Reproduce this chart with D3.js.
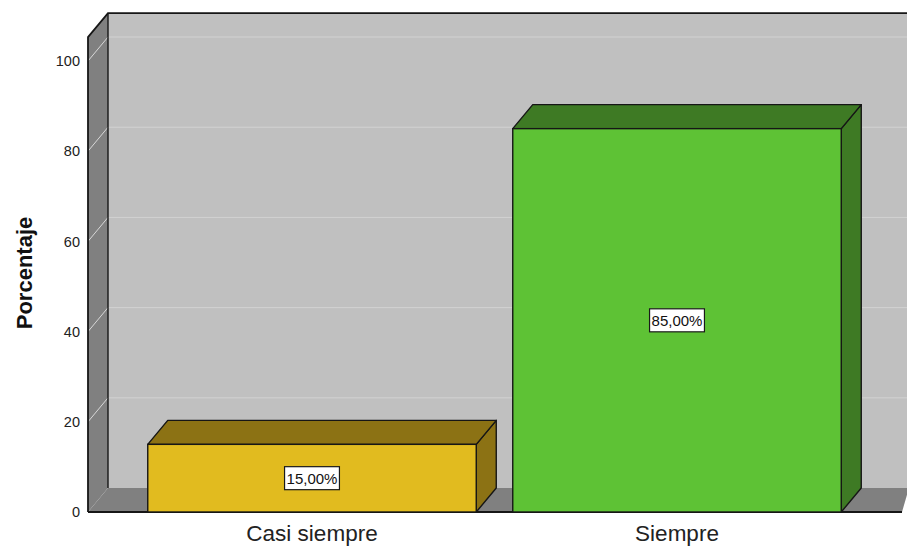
<!DOCTYPE html>
<html>
<head>
<meta charset="utf-8">
<script src="https://cdn.jsdelivr.net/npm/d3@7"></script>
<style>
  html, body { margin: 0; padding: 0; background: #ffffff; }
  svg { display: block; font-family: "Liberation Sans", Arial, sans-serif; }
</style>
</head>
<body>
<svg id="chart" width="907" height="546"></svg>
<script>
// ---- data ----
const categories = ["Casi siempre", "Siempre"];
const values = [15, 85];
const valueLabels = ["15,00%", "85,00%"];
const yTicks = [0, 20, 40, 60, 80, 100];
const yTitle = "Porcentaje";
const frontColors = ["#e1bb1f", "#5ec235"];
const darkColors = ["#8c7214", "#3e7a24"];

// ---- layout ----
const W = 907, H = 546;
const depthX = 20, depthY = 24;
const wallMax = 105.3;
const svg = d3.select("#chart");

const y = d3.scaleLinear().domain([0, 100]).range([512, 61]);
const x = d3.scaleBand().domain(categories).range([129.5, 859.5])
  .paddingInner(0.1).paddingOuter(0.05);

const floorY = y(0);
const leftX = 88;
const rightX = 902;
const topY = y(wallMax);

// back wall
svg.append("rect")
  .attr("x", leftX + depthX).attr("y", topY - depthY)
  .attr("width", W - (leftX + depthX) + 5).attr("height", floorY - topY)
  .attr("fill", "#c0c0c0");

// side wall
svg.append("path")
  .attr("d", `M${leftX},${topY} L${leftX + depthX},${topY - depthY} L${leftX + depthX},${floorY - depthY} L${leftX},${floorY} Z`)
  .attr("fill", "#808080");

// floor
svg.append("path")
  .attr("d", `M${leftX},${floorY} L${leftX + depthX},${floorY - depthY} L${W + 2},${floorY - depthY} L${rightX},${floorY} Z`)
  .attr("fill", "#808080");

// gridlines on back wall and side wall
yTicks.filter(t => t > 0).forEach(t => {
  svg.append("line")
    .attr("x1", leftX + depthX).attr("x2", W)
    .attr("y1", y(t) - depthY).attr("y2", y(t) - depthY)
    .attr("stroke", "#d2d2d2").attr("stroke-width", 1);
  svg.append("line")
    .attr("x1", leftX).attr("x2", leftX + depthX)
    .attr("y1", y(t)).attr("y2", y(t) - depthY)
    .attr("stroke", "#d8d8d8").attr("stroke-width", 1);
});

// wall outlines
const edge = "#161616";
svg.append("path")
  .attr("d", `M${leftX},${floorY} L${leftX},${topY} L${leftX + depthX},${topY - depthY} L${W + 2},${topY - depthY}`)
  .attr("fill", "none").attr("stroke", edge).attr("stroke-width", 1.8);
svg.append("line")
  .attr("x1", leftX + depthX).attr("x2", leftX + depthX)
  .attr("y1", topY - depthY).attr("y2", floorY - depthY)
  .attr("stroke", edge).attr("stroke-width", 1.4);
svg.append("line")
  .attr("x1", leftX).attr("x2", rightX)
  .attr("y1", floorY).attr("y2", floorY)
  .attr("stroke", edge).attr("stroke-width", 1.8);

// bars
const bars = svg.append("g");
categories.forEach((c, i) => {
  const x0 = x(c), x1 = x(c) + x.bandwidth();
  const yt = y(values[i]);
  const g = bars.append("g");
  // side
  g.append("path")
    .attr("d", `M${x1},${yt} L${x1 + depthX},${yt - depthY} L${x1 + depthX},${floorY - depthY} L${x1},${floorY} Z`)
    .attr("fill", darkColors[i]).attr("stroke", edge).attr("stroke-width", 1.4).attr("stroke-linejoin", "round");
  // top
  g.append("path")
    .attr("d", `M${x0},${yt} L${x0 + depthX},${yt - depthY} L${x1 + depthX},${yt - depthY} L${x1},${yt} Z`)
    .attr("fill", darkColors[i]).attr("stroke", edge).attr("stroke-width", 1.4).attr("stroke-linejoin", "round");
  // front
  g.append("rect")
    .attr("x", x0).attr("y", yt).attr("width", x1 - x0).attr("height", floorY - yt)
    .attr("fill", frontColors[i]).attr("stroke", edge).attr("stroke-width", 1.4);

  // value label
  const cx = (x0 + x1) / 2, cy = (yt + floorY) / 2;
  const lg = g.append("g");
  const rect = lg.append("rect");
  const txt = lg.append("text")
    .attr("x", cx).attr("y", cy)
    .attr("text-anchor", "middle").attr("dominant-baseline", "central")
    .attr("font-size", 15).attr("fill", "#111")
    .text(valueLabels[i]);
  const bb = txt.node().getBBox();
  rect.attr("x", bb.x - 2).attr("y", cy - 11.5).attr("width", bb.width + 4).attr("height", 23)
    .attr("fill", "#ffffff").attr("stroke", "#1a1a1a").attr("stroke-width", 1.2);
});

// y axis
const yAxis = svg.append("g")
  .attr("transform", `translate(${leftX},0)`)
  .call(d3.axisLeft(y).tickValues(yTicks).tickSize(0).tickPadding(8).tickFormat(d3.format("d")));
yAxis.select(".domain").remove();
yAxis.selectAll("text").attr("font-size", 14.5).attr("fill", "#222")
  .attr("font-family", "'Liberation Sans', Arial, sans-serif");

// x axis labels
const xAxis = svg.append("g")
  .attr("transform", `translate(0,${floorY})`)
  .call(d3.axisBottom(x).tickSize(0).tickPadding(13));
xAxis.select(".domain").remove();
xAxis.selectAll("text").attr("font-size", 22.5).attr("fill", "#222")
  .attr("font-family", "'Liberation Sans', Arial, sans-serif");

// y title
svg.append("text")
  .attr("transform", `translate(24,273) rotate(-90)`)
  .attr("text-anchor", "middle").attr("dominant-baseline", "central")
  .attr("font-size", 22).attr("font-weight", "bold").attr("fill", "#111")
  .text(yTitle);
</script>
</body>
</html>
